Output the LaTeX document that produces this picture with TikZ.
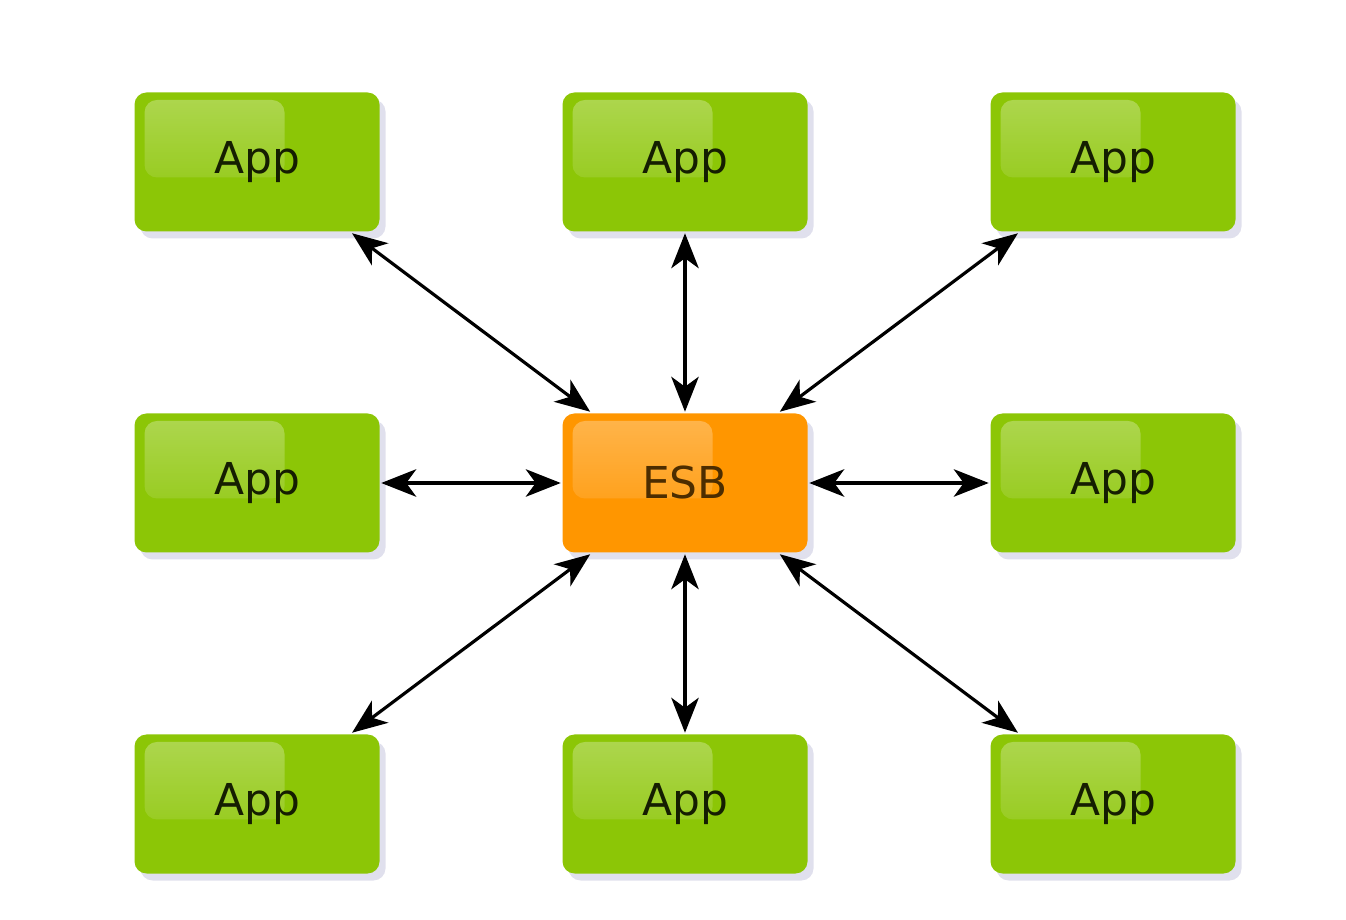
\documentclass[tikz,border=0pt]{standalone}
\usepackage{fontspec}
\setmainfont{DejaVu Sans}
\usetikzlibrary{arrows.meta,shadows,fadings}
\definecolor{appgreen}{RGB}{140,198,6}
\definecolor{esborange}{RGB}{255,150,0}
\tikzset{
  box/.style={rounded corners=0.24cm, minimum width=4.9cm, minimum height=2.78cm,
    font=\fontsize{25}{30}\selectfont, inner sep=0pt, outer sep=1pt,
    drop shadow={shadow xshift=0.12cm, shadow yshift=-0.14cm, opacity=0.3, fill=black!60!blue!40},
    path picture={\fill[white, opacity=0.3, path fading=south, rounded corners=0.25cm]
      ([shift={(0.2,-0.15)}]path picture bounding box.north west) rectangle
      ([shift={(3.0,-1.7)}]path picture bounding box.north west);}},
  appbox/.style={box, fill=appgreen, text=black!85!appgreen},
  esbbox/.style={box, fill=esborange, text=black!70!esborange},
  link/.style={{Stealth[length=0.7cm,width=0.55cm,inset=0.2cm]}-{Stealth[length=0.7cm,width=0.55cm,inset=0.2cm]}, line width=1.8pt}
}
\begin{document}
\begin{tikzpicture}
    \useasboundingbox (0,0) rectangle (26.92,-18.4);
    \node[esbbox] (esb) at (13.70,-9.66) {ESB};
    \foreach \name/\x/\y in {nw/5.14/-3.24, n/13.70/-3.24, ne/22.26/-3.24,
                             w/5.14/-9.66, e/22.26/-9.66,
                             sw/5.14/-16.08, s/13.70/-16.08, se/22.26/-16.08}{
        \node[appbox] (\name) at (\x,\y) {App};
        \draw[link] (\name) -- (esb);
    }
\end{tikzpicture}
\end{document}
